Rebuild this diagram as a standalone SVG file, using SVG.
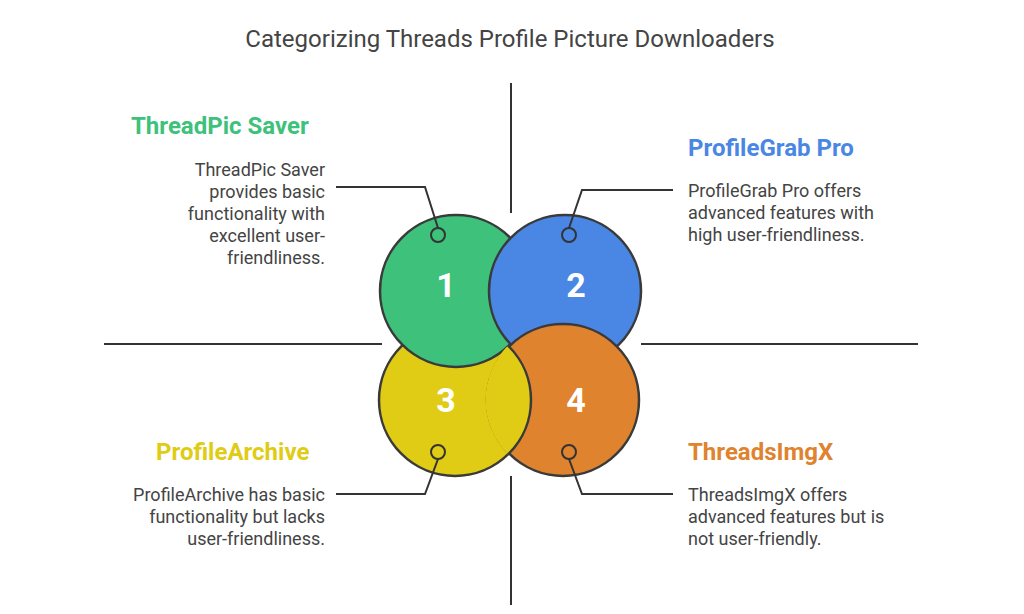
<svg xmlns="http://www.w3.org/2000/svg" width="1024" height="614" viewBox="0 0 1024 614">
<style>
text{font-family:Roboto,"Liberation Sans",sans-serif}
.t{font-size:24px;fill:#444}
.h{font-size:24px;font-weight:bold}
.b{font-size:18px;fill:#444}
.n{font-size:34px;font-weight:bold;fill:#fff;text-anchor:middle}
.ln{stroke:#333;stroke-width:2;fill:none}
.c{stroke:#3a3a3a;stroke-width:2.5}
.d{stroke:#333;stroke-width:2}
</style>
<defs><clipPath id="co"><circle cx="563" cy="400" r="77.5"/></clipPath></defs>
<rect width="1024" height="614" fill="#fff"/>
<text class="t" x="510" y="47" text-anchor="middle">Categorizing Threads Profile Picture Downloaders</text>
<g id="axes" class="ln">
<line x1="511" y1="83" x2="511" y2="213"/><line x1="511" y1="476" x2="511" y2="605"/>
<line x1="104" y1="344" x2="382" y2="344"/><line x1="641" y1="344" x2="918" y2="344"/>
</g>
<g id="n3"><circle class="c" cx="455" cy="400" r="76" fill="#e0cb15"/></g>
<g id="n1"><circle class="c" cx="456" cy="291" r="76" fill="#3dc17b"/></g>
<g id="n2"><circle class="c" cx="565" cy="291" r="76" fill="#4a86e4"/></g>
<g id="n4"><circle class="c" cx="563" cy="400" r="76" fill="#e0832e"/>
<circle class="c" cx="455" cy="400" r="76" fill="#e0cb15" clip-path="url(#co)"/></g>
<text class="n" x="446" y="297">1</text><text class="n" x="576" y="297">2</text>
<text class="n" x="446" y="412">3</text><text class="n" x="576" y="412">4</text>
<g id="connectors" class="ln">
<polyline points="438,228 425,187 336,187"/>
<polyline points="569,228 582,190 673,190"/>
<polyline points="438,459 425,494 336,494"/>
<polyline points="569,459 582,494 673,494"/>
<circle class="d" cx="438" cy="235" r="7" fill="#3dc17b"/>
<circle class="d" cx="569" cy="235" r="7" fill="#4a86e4"/>
<circle class="d" cx="438" cy="452" r="7" fill="#e0cb15"/>
<circle class="d" cx="569" cy="452" r="7" fill="#e0832e"/>
</g>
<g id="l1">
<text class="h" x="131" y="134" fill="#3dc17b">ThreadPic Saver</text>
<g class="b" text-anchor="end"><text x="325" y="176">ThreadPic Saver</text><text x="325" y="198">provides basic</text><text x="325" y="220">functionality with</text><text x="325" y="242">excellent user-</text><text x="325" y="264">friendliness.</text></g>
</g>
<g id="l2">
<text class="h" x="688" y="156" fill="#4a86e4">ProfileGrab Pro</text>
<g class="b"><text x="688" y="197">ProfileGrab Pro offers</text><text x="688" y="219">advanced features with</text><text x="688" y="241">high user-friendliness.</text></g>
</g>
<g id="l3">
<text class="h" x="156" y="460" fill="#e0cb15">ProfileArchive</text>
<g class="b" text-anchor="end"><text x="325" y="501">ProfileArchive has basic</text><text x="325" y="523">functionality but lacks</text><text x="325" y="545">user-friendliness.</text></g>
</g>
<g id="l4">
<text class="h" x="688" y="460" fill="#e0832e">ThreadsImgX</text>
<g class="b"><text x="688" y="501">ThreadsImgX offers</text><text x="688" y="523">advanced features but is</text><text x="688" y="545">not user-friendly.</text></g>
</g>
</svg>
